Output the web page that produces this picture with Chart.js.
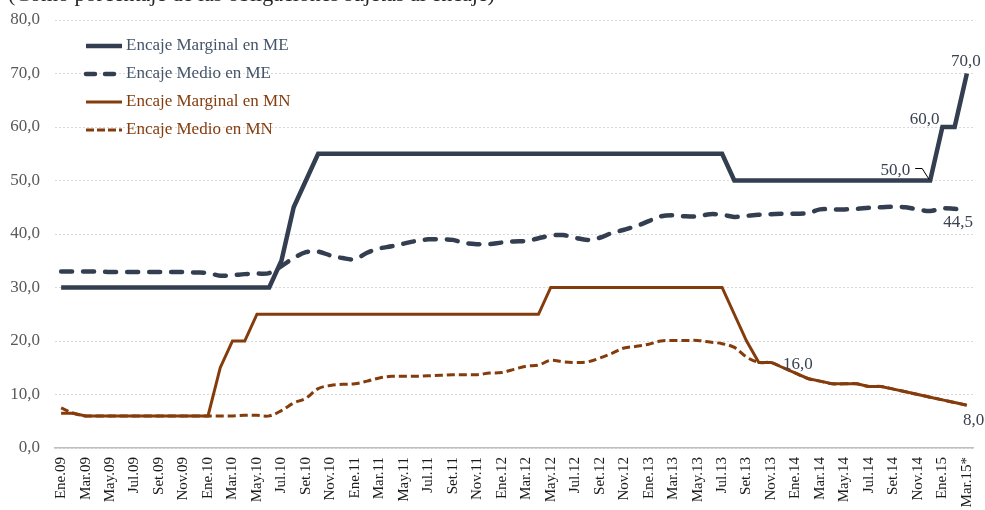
<!DOCTYPE html>
<html><head><meta charset="utf-8">
<script src="https://cdn.jsdelivr.net/npm/chart.js@4.4.1/dist/chart.umd.min.js"></script>
<style>html,body{margin:0;padding:0;background:#fff;overflow:hidden}</style>
</head><body>
<canvas id="c" width="985" height="510"></canvas>
<script>
const titleText = "(Como porcentaje de las obligaciones sujetas al encaje)";
const categories = [
 "Ene.09","Feb.09","Mar.09","Abr.09","May.09","Jun.09","Jul.09","Ago.09","Set.09","Oct.09","Nov.09","Dic.09",
 "Ene.10","Feb.10","Mar.10","Abr.10","May.10","Jun.10","Jul.10","Ago.10","Set.10","Oct.10","Nov.10","Dic.10",
 "Ene.11","Feb.11","Mar.11","Abr.11","May.11","Jun.11","Jul.11","Ago.11","Set.11","Oct.11","Nov.11","Dic.11",
 "Ene.12","Feb.12","Mar.12","Abr.12","May.12","Jun.12","Jul.12","Ago.12","Set.12","Oct.12","Nov.12","Dic.12",
 "Ene.13","Feb.13","Mar.13","Abr.13","May.13","Jun.13","Jul.13","Ago.13","Set.13","Oct.13","Nov.13","Dic.13",
 "Ene.14","Feb.14","Mar.14","Abr.14","May.14","Jun.14","Jul.14","Ago.14","Set.14","Oct.14","Nov.14","Dic.14",
 "Ene.15","Feb.15","Mar.15*"];
const seriesNames = ["Encaje Marginal en ME","Encaje Medio en ME","Encaje Marginal en MN","Encaje Medio en MN"];
const encajeMarginalME = [
 30,30,30,30,30,30,30,30,30,30,30,30,
 30,30,30,30,30,30,35,45,50,55,55,55,
 55,55,55,55,55,55,55,55,55,55,55,55,
 55,55,55,55,55,55,55,55,55,55,55,55,
 55,55,55,55,55,55,55,50,50,50,50,50,
 50,50,50,50,50,50,50,50,50,50,50,50,
 60,60,70];
const encajeMedioME = [
 33.0,33.0,33.0,33.0,32.9,32.9,32.9,32.9,32.9,32.9,32.9,32.8,
 32.7,32.2,32.3,32.5,32.6,32.7,34.0,35.5,36.6,36.7,36.0,35.5,
 35.3,36.5,37.3,37.7,38.2,38.7,39.0,39.0,38.9,38.3,38.1,38.1,
 38.4,38.6,38.7,39.2,39.7,39.8,39.3,38.9,39.3,40.2,40.8,41.5,
 42.4,43.3,43.5,43.3,43.3,43.7,43.6,43.2,43.4,43.6,43.7,43.8,
 43.8,43.9,44.6,44.6,44.6,44.7,44.9,45.0,45.1,45.0,44.6,44.3,
 44.8,44.7,44.5];
const encajeMarginalMN = [
 6.5,6.5,6,6,6,6,6,6,6,6,6,6,
 6,15,20,20,25,25,25,25,25,25,25,25,
 25,25,25,25,25,25,25,25,25,25,25,25,
 25,25,25,25,30,30,30,30,30,30,30,30,
 30,30,30,30,30,30,30,25,20,16,16,15,
 14,13,12.5,12,12,12,11.5,11.5,11,10.5,10,9.5,
 9,8.5,8];
const encajeMedioMN = [
 7.5,6.5,6.0,6.0,6.0,6.0,6.0,6.0,6.0,6.0,6.0,6.0,
 6.0,6.0,6.0,6.1,6.1,6.0,7.0,8.4,9.3,11.1,11.7,11.9,
 12.0,12.5,13.1,13.4,13.4,13.4,13.5,13.6,13.7,13.7,13.7,14.0,
 14.1,14.7,15.3,15.5,16.4,16.1,16.0,16.1,16.8,17.7,18.7,19.0,
 19.4,20.0,20.1,20.1,20.1,19.8,19.5,18.8,17.0,16.0,16.0,15.0,
 14,13,12.5,12,12,12,11.5,11.5,11,10.5,10,9.5,
 9,8.5,8];
const yTicks = [0,10,20,30,40,50,60,70,80];

const FONT = "'Liberation Serif', 'Times New Roman', serif";
const ME = '#333F50', MN = '#843C0C';

// value labels: dataset index, point index
const valueLabels = [
 {ds:0, i:74, dx:-1, dy:-12, align:'center'},
 {ds:0, i:72, dx:-3, dy:-7, align:'right'},
 {ds:0, i:71, dx:-20, dy:-10, align:'right', leader:true},
 {ds:1, i:74, dx:6, dy:13, align:'right'},
 {ds:2, i:58, dx:12, dy:2, align:'left'},
 {ds:2, i:74, dx:-4, dy:15, align:'left'}
];

const extras = {
  id:'extras',
  afterDraw(chart){
    const ctx = chart.ctx;
    ctx.save();
    // title (cut at top)
    ctx.font = "22px " + FONT;
    ctx.fillStyle = '#262626';
    ctx.textAlign = 'left'; ctx.textBaseline = 'alphabetic';
    ctx.fillText(titleText, 8, 1);
    // legend
    const rows = [46, 74, 102, 130];
    chart.data.datasets.forEach((d, k) => {
      const y = rows[k];
      ctx.save();
      ctx.strokeStyle = d.borderColor;
      ctx.lineWidth = d.borderWidth;
      ctx.lineCap = d.borderCapStyle || 'butt';
      ctx.setLineDash(d.legendDash || []);
      ctx.beginPath(); ctx.moveTo(86, y); ctx.lineTo(122, y); ctx.stroke();
      ctx.restore();
      ctx.font = "17px " + FONT;
      ctx.fillStyle = d.legendColor;
      ctx.textAlign = 'left'; ctx.textBaseline = 'middle';
      ctx.fillText(d.label, 126, y);
    });
    // value labels
    ctx.font = "17px " + FONT;
    ctx.fillStyle = '#3a4252';
    ctx.textBaseline = 'middle';
    valueLabels.forEach(l => {
      const p = chart.getDatasetMeta(l.ds).data[l.i];
      const v = chart.data.datasets[l.ds].data[l.i];
      const t = v.toFixed(1).replace('.', ',');
      ctx.textAlign = l.align;
      ctx.fillText(t, p.x + l.dx, p.y + l.dy);
      if (l.leader) {
        ctx.save();
        ctx.strokeStyle = '#000'; ctx.lineWidth = 1;
        ctx.beginPath();
        ctx.moveTo(p.x - 15, p.y - 12);
        ctx.lineTo(p.x - 8, p.y - 12);
        ctx.lineTo(p.x - 1, p.y - 1);
        ctx.stroke();
        ctx.restore();
      }
    });
    ctx.restore();
  }
};

new Chart(document.getElementById('c'), {
  type:'line',
  data:{
    labels:categories,
    datasets:[
      {label:seriesNames[0], data:encajeMarginalME, borderColor:ME, borderWidth:4.5, tension:0, legendColor:'#44546A'},
      {label:seriesNames[1], data:encajeMedioME, borderColor:ME, borderWidth:4.5, borderDash:[11,11], borderCapStyle:'round', tension:0.35, legendColor:'#44546A', legendDash:[9,10]},
      {label:seriesNames[2], data:encajeMarginalMN, borderColor:MN, borderWidth:3, tension:0, legendColor:MN},
      {label:seriesNames[3], data:encajeMedioMN, borderColor:MN, borderWidth:3, borderDash:[8,4], tension:0.35, legendColor:MN, legendDash:[8,3]}
    ]
  },
  options:{
    responsive:false, animation:false, devicePixelRatio:1,
    layout:{padding:{top:20, right:12, left:0, bottom:0}},
    elements:{point:{radius:0, hoverRadius:0}},
    plugins:{legend:{display:false}, tooltip:{enabled:false}},
    scales:{
      x:{
        offset:true,
        grid:{display:false, drawTicks:false},
        border:{display:true, color:'#bfbfbf', width:1.5},
        ticks:{autoSkip:false, minRotation:90, maxRotation:90, padding:9, color:'#1a1a1a',
          font:{family:FONT, size:15},
          callback:function(v, i){ return i % 2 === 0 ? categories[i] : ''; }},
        afterFit(s){ s.height = 62; s.paddingLeft = 0; s.paddingRight = 0; }
      },
      y:{
        min:0, max:80,
        afterBuildTicks(s){ s.ticks = yTicks.map(v => ({value:v})); },
        grid:{color:'#d9d9d9', lineWidth:1, drawTicks:false},
        border:{display:false, dash:[2,2]},
        ticks:{padding:15, color:'#595959', font:{family:FONT, size:17},
          callback:v => v.toFixed(1).replace('.', ',')},
        afterFit(s){ s.width = 55; s.paddingTop = 0; s.paddingBottom = 0; }
      }
    }
  },
  plugins:[extras]
});
</script>
</body></html>
